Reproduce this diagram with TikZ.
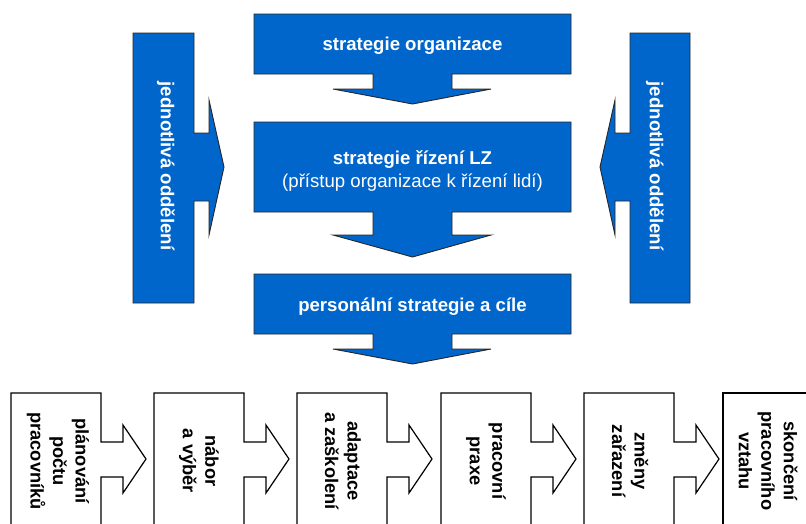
\documentclass[tikz,border=0pt]{standalone}
\usepackage{fontspec}
\setmainfont{Liberation Sans}
\begin{document}
\begin{tikzpicture}[x=1pt,y=-1pt,
  bluebox/.style={fill=blueA,draw=black!85,line width=0.9pt,line join=miter},
  whitebox/.style={fill=white,draw=black,line width=1.2pt,line join=miter},
  wtext/.style={text=white,font=\fontsize{18.6}{23}\selectfont\bfseries,inner sep=0pt,align=center},
  btext/.style={text=black,font=\fontsize{18.3}{22.5}\selectfont\bfseries,inner sep=0pt,align=center,rotate=-90}]
\definecolor{blueA}{RGB}{0,102,204}
\useasboundingbox (0,0) rectangle (806,523);
\clip (0,0) rectangle (806,523);
\fill[white] (0,0) rectangle (806,523);
% top vertical chain
\draw[bluebox] (254,14) -- (571,14) -- (571,74) -- (452,74) -- (452,89) -- (491,89) -- (412.5,104) -- (333,89) -- (373,89) -- (373,74) -- (254,74) -- cycle;
\draw[bluebox] (254,122) -- (571,122) -- (571,212) -- (452,212) -- (452,235) -- (491,235) -- (412.5,257) -- (333,235) -- (373,235) -- (373,212) -- (254,212) -- cycle;
\draw[bluebox] (254,274) -- (571,274) -- (571,334) -- (452,334) -- (452,349) -- (491,349) -- (412.5,364) -- (333,349) -- (373,349) -- (373,334) -- (254,334) -- cycle;
\node[wtext] (so) at (412.5,46) {strategie organizace};
\node[wtext] (srlz) at (412.5,171) {strategie řízení LZ\\{\mdseries (přístup organizace k řízení lidí)}};
\node[wtext] (ps) at (412.5,307) {personální strategie a cíle};
% side arrows
\draw[bluebox] (133,33) -- (194,33) -- (194,133) -- (209,133) -- (209,100) -- (224,167) -- (209,235) -- (209,201) -- (194,201) -- (194,303) -- (133,303) -- cycle;
\draw[bluebox] (690,33) -- (630,33) -- (630,133) -- (615,133) -- (615,100) -- (600,167) -- (615,235) -- (615,201) -- (630,201) -- (630,303) -- (690,303) -- cycle;
\node[wtext,rotate=-90] (jl) at (166,166) {jednotlivá oddělení};
\node[wtext,rotate=-90] (jr) at (655,166) {jednotlivá oddělení};
% bottom process
\foreach \L in {11,154,297,441,584}{
  \draw[whitebox] (\L,393) -- (\L+90,393) -- (\L+90,442) -- (\L+112,442) -- (\L+112,425) -- (\L+135,459) -- (\L+112,493) -- (\L+112,477) -- (\L+90,477) -- (\L+90,540) -- (\L,540) -- cycle;
}
\draw[whitebox] (723,393) -- (830,393) -- (830,540) -- (723,540) -- cycle;
\node[btext] (b1) at (58,461) {plánování\\počtu\\pracovníků};
\node[btext] (b2) at (199,461) {nábor\\a výběr};
\node[btext] (b3) at (343,461) {adaptace\\a zaškolení};
\node[btext] (b4) at (486,461) {pracovní\\praxe};
\node[btext] (b5) at (630,461) {změny\\zařazení};
\node[btext] (b6) at (768,461) {skončení\\pracovního\\vztahu};
\end{tikzpicture}
\end{document}
